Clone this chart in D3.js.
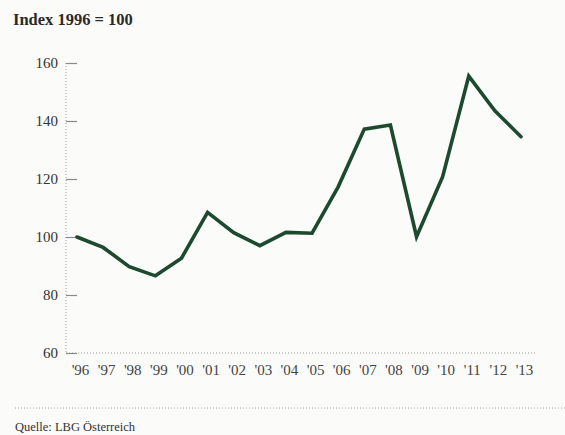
<!DOCTYPE html>
<html>
<head>
<meta charset="utf-8">
<script src="https://cdn.jsdelivr.net/npm/d3@7"></script>
<style>
  html, body { margin: 0; padding: 0; background: #fbfbfa; }
  svg { display: block; }
  text { font-family: "Liberation Serif", "DejaVu Serif", serif; }
</style>
</head>
<body>
<script>
// Index series, 1996 = 100
const years = ["'96","'97","'98","'99","'00","'01","'02","'03","'04","'05","'06","'07","'08","'09","'10","'11","'12","'13"];
const values = [100, 96.4, 89.8, 86.6, 92.7, 108.5, 101.5, 97, 101.6, 101.3, 117.3, 137.2, 138.6, 100.1, 120.8, 155.5, 143.5, 134.6];
const yTicks = [60, 80, 100, 120, 140, 160];

const W = 565, H = 435;
const svg = d3.select("body").append("svg").attr("width", W).attr("height", H);

const x = d3.scalePoint().domain(years).range([77, 521]);
const y = d3.scaleLinear().domain([60, 160]).range([353, 63]);

// Title
svg.append("text")
  .attr("x", 13).attr("y", 25)
  .attr("font-size", 16.5).attr("font-weight", "bold")
  .attr("fill", "#2a2a2a")
  .text("Index 1996 = 100");

// Dotted axis lines
svg.append("line")
  .attr("x1", 66).attr("x2", 66).attr("y1", y(160)).attr("y2", y(60))
  .attr("stroke", "#9a9a9a").attr("stroke-width", 1).attr("stroke-dasharray", "1,2");
svg.append("line")
  .attr("x1", 66).attr("x2", 537).attr("y1", y(60)).attr("y2", y(60))
  .attr("stroke", "#9a9a9a").attr("stroke-width", 1).attr("stroke-dasharray", "1,2");

// Y axis: short solid ticks and labels
const yAxis = d3.axisRight(y).tickValues(yTicks).tickSize(11).tickFormat("");
const gy = svg.append("g").attr("transform", "translate(66,0)").call(yAxis);
gy.select(".domain").remove();
gy.selectAll(".tick line").attr("stroke", "#8a8a8a").attr("stroke-width", 1.2);

svg.append("g").selectAll("text").data(yTicks).join("text")
  .attr("x", 58).attr("y", d => y(d)).attr("dy", "0.35em")
  .attr("text-anchor", "end").attr("font-size", 15).attr("fill", "#333")
  .text(d => d);

// X axis labels
const xAxis = d3.axisBottom(x).tickSize(0).tickPadding(0);
const gx = svg.append("g").attr("transform", `translate(3,${y(60) + 20})`).call(xAxis);
gx.select(".domain").remove();
gx.selectAll(".tick text")
  .attr("font-family", "'Liberation Serif', 'DejaVu Serif', serif")
  .attr("font-size", 15).attr("fill", "#444").attr("dy", "0.15em");

// Series line
const line = d3.line().x((d, i) => x(years[i])).y(d => y(d));
svg.append("path")
  .datum(values)
  .attr("d", line)
  .attr("fill", "none")
  .attr("stroke", "#1d4a2f")
  .attr("stroke-width", 3.6)
  .attr("stroke-linejoin", "miter")
  .attr("stroke-linecap", "round");

// Footer rule and source
svg.append("line")
  .attr("x1", 15).attr("x2", 565).attr("y1", 408).attr("y2", 408)
  .attr("stroke", "#a0a0a0").attr("stroke-width", 1).attr("stroke-dasharray", "1,2");
svg.append("text")
  .attr("x", 15).attr("y", 431)
  .attr("font-size", 12.5).attr("fill", "#333")
  .text("Quelle: LBG Österreich");
</script>
</body>
</html>
